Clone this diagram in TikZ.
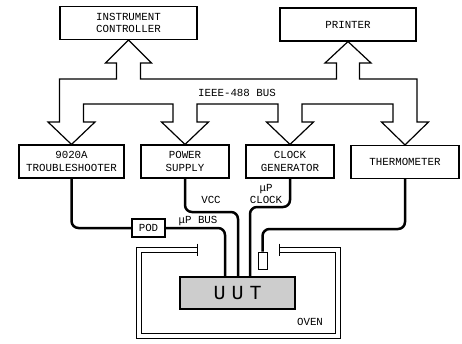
\documentclass[tikz,border=0pt]{standalone}
\usepackage{fontspec}
\setmainfont{Liberation Mono}
\newfontfamily\uutfont[LetterSpace=30]{Liberation Mono}
\usepackage{tikz}
\usetikzlibrary{calc,positioning}
\definecolor{uutgray}{HTML}{CDCDCD}

\begin{document}
\begin{tikzpicture}[x=1pt,y=-1pt,
  unit/.style={draw,line width=1.1pt,minimum height=33pt,inner sep=1pt,align=center,font=\fontsize{10.8}{12.5}\selectfont},
  cable/.style={line width=2.5pt,rounded corners=7pt},
  bus/.style={line width=1.2pt,line join=miter},
  wall/.style={line width=1pt},
  tag/.style={font=\fontsize{10.8}{12.5}\selectfont,align=center,inner sep=0pt}]
  \useasboundingbox (0,0) rectangle (462,343);
  % instruments
  \node[unit,minimum width=137pt] (ic) at (128.5,23) {INSTRUMENT\\CONTROLLER};
  \node[unit,minimum width=136pt] (pr) at (348,24.5) {PRINTER};
  \node[unit,minimum width=105pt] (ts) at (71.5,161.5) {9020A\\TROUBLESHOOTER};
  \node[unit,minimum width=88pt] (ps) at (185,161.5) {POWER\\SUPPLY};
  \node[unit,minimum width=88pt] (cg) at (290,161.5) {CLOCK\\GENERATOR};
  \node[unit,minimum width=108pt] (th) at (405,162) {THERMOMETER};
  \node[unit,minimum width=33pt,minimum height=18pt] (pod) at (148.5,228) {POD};
  \node[unit,fill=uutgray,minimum width=115pt,minimum height=32pt,font=\uutfont\fontsize{20}{22}\selectfont] (uut) at (237.5,293) {UUT};
  \node[draw,line width=1pt,minimum width=9pt,minimum height=17pt,inner sep=0pt] (probe) at (262.5,260.5) {};
  % IEEE-488 bus
  \draw[bus] (59.5,79) -- (116.5,79) -- (116.5,63) -- (105.5,63) -- (ic.south) -- (151.5,63) -- (140.5,63) -- (140.5,79)
    -- (336.5,79) -- (336.5,63) -- (325,63) -- (pr.south) -- (371,63) -- (359.5,63) -- (359.5,79)
    -- (417,79) -- (417,122) -- (428.5,122) -- (th.north) -- (381.5,122) -- (393,122) -- (393,104)
    -- (302,104) -- (302,122) -- (313.5,122) -- (cg.north) -- (266.5,122) -- (278,122) -- (278,104)
    -- (197,104) -- (197,122) -- (208.5,122) -- (ps.north) -- (161.5,122) -- (173,122) -- (173,104)
    -- (83.5,104) -- (83.5,122) -- (95,122) -- (ts.north) -- (48,122) -- (59.5,122) -- cycle;
  \node[tag] (ieee) at (237,93) {IEEE-488 BUS};
  % cables
  \coordinate (vccbend) at (238,212);
  \coordinate (clkbend) at (250,207);
  \coordinate (thbend) at (262.5,229);
  \draw[cable] (ts.south) |- (pod.west);
  \draw[cable] (pod.east) -| ($(uut.north)+(-12.5,0)$);
  \draw[cable] (ps.south) |- (vccbend) -- (vccbend |- uut.north);
  \draw[cable] (cg.south) |- (clkbend) -- (clkbend |- uut.north);
  \draw[cable] (th.south) |- (thbend) -- (probe.north);
  \node[tag] (vcc) at (211,200) {VCC};
  \node[tag] (clk) at (266,194) {μP\\CLOCK};
  \node[tag] (ubus) at (198,221) {μP BUS};
  % oven
  \draw[wall] (197,247) -- (136,247) -- (136,338) -- (340,338) -- (340,247) -- (279,247);
  \draw[wall] (197,252) -- (141,252) -- (141,333) -- (335,333) -- (335,252) -- (279,252);
  \draw[wall] (197,243.5) -- (197,255.5);
  \draw[wall] (279,243.5) -- (279,255.5);
  \node[tag] (oven) at (310,322) {OVEN};
\end{tikzpicture}
\end{document}
